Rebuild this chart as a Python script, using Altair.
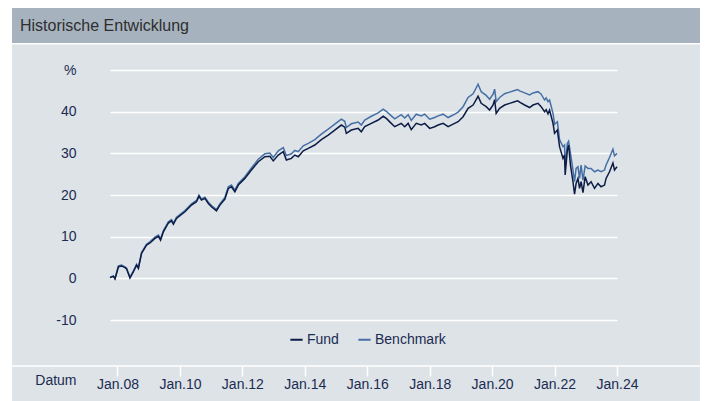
import altair as alt
import pandas as pd

# ---- data ----
years = [
    2007.76, 2007.87, 2007.92, 2008.03, 2008.13, 2008.24, 2008.29, 2008.40, 2008.51, 2008.61,
    2008.67, 2008.77, 2008.93, 2009.04, 2009.20, 2009.31, 2009.38, 2009.47, 2009.63, 2009.73,
    2009.79, 2009.89, 2010.16, 2010.37, 2010.53, 2010.61, 2010.69, 2010.80, 2010.91, 2011.01,
    2011.17, 2011.28, 2011.44, 2011.55, 2011.65, 2011.76, 2011.87, 2012.08, 2012.29, 2012.51,
    2012.72, 2012.88, 2012.99, 2013.15, 2013.31, 2013.41, 2013.57, 2013.68, 2013.79, 2013.95,
    2014.11, 2014.32, 2014.53, 2014.75, 2014.96, 2015.17, 2015.28, 2015.33, 2015.49, 2015.71,
    2015.81, 2015.92, 2016.13, 2016.35, 2016.51, 2016.61, 2016.77, 2016.88, 2017.09, 2017.20,
    2017.31, 2017.41, 2017.57, 2017.73, 2017.84, 2018.00, 2018.16, 2018.27, 2018.43, 2018.59,
    2018.75, 2018.91, 2019.07, 2019.23, 2019.39, 2019.55, 2019.65, 2019.81, 2019.92, 2020.03,
    2020.08, 2020.13, 2020.24, 2020.40, 2020.56, 2020.72, 2020.82, 2020.88, 2021.04, 2021.20,
    2021.31, 2021.47, 2021.57, 2021.68, 2021.73, 2021.79, 2021.84, 2021.95, 2022.00, 2022.09,
    2022.16, 2022.27, 2022.32, 2022.34, 2022.41, 2022.45, 2022.51, 2022.59, 2022.64, 2022.69,
    2022.75, 2022.80, 2022.85, 2022.91, 2022.98, 2023.07, 2023.17, 2023.28, 2023.39, 2023.49,
    2023.60, 2023.65, 2023.76, 2023.87, 2023.92, 2024.00,
]

fund = [
    0.2, 0.5, -0.1, 2.8, 3.0, 2.6, 2.3, 0.1, 1.6, 3.2,
    2.4, 6.0, 8.0, 8.5, 9.6, 10.1, 9.2, 11.2, 13.3, 13.8,
    13.0, 14.4, 16.0, 17.6, 18.4, 19.7, 18.8, 19.2, 18.0, 17.2,
    16.2, 17.6, 19.0, 21.6, 22.0, 20.8, 22.4, 24.0, 26.0, 28.0,
    29.2, 29.3, 28.2, 29.6, 30.4, 28.4, 28.8, 29.6, 29.2, 30.6,
    31.2, 32.0, 33.3, 34.4, 35.6, 36.8, 36.3, 34.8, 35.6, 36.0,
    35.2, 36.4, 37.2, 38.0, 38.9, 38.4, 37.2, 36.4, 37.2, 36.4,
    37.2, 35.7, 37.2, 36.8, 37.2, 36.0, 36.4, 36.8, 37.2, 36.4,
    37.0, 37.6, 38.8, 40.8, 41.6, 43.7, 42.0, 41.2, 40.4, 41.6,
    42.9, 39.6, 40.8, 41.6, 42.0, 42.4, 42.6, 42.3, 41.6, 41.0,
    41.6, 42.0, 41.2, 40.0, 40.5, 39.5, 40.4, 37.2, 34.8, 35.6,
    31.6, 28.8, 29.6, 24.8, 30.8, 32.0, 27.2, 23.2, 20.2, 22.8,
    24.0, 21.6, 23.2, 20.6, 24.4, 22.4, 23.2, 21.6, 22.8, 22.0,
    22.4, 24.0, 25.6, 27.7, 26.0, 26.8,
]

benchmark = [
    0.3, 0.6, 0.0, 3.0, 3.2, 2.8, 2.5, 0.3, 1.8, 3.4,
    2.6, 6.2, 8.2, 8.8, 9.9, 10.4, 9.5, 11.5, 13.6, 14.1,
    13.3, 14.7, 16.3, 17.9, 18.7, 20.0, 19.1, 19.5, 18.3, 17.5,
    16.5, 17.9, 19.4, 22.0, 22.4, 21.2, 22.8, 24.4, 26.5, 28.6,
    29.9, 30.1, 29.0, 30.6, 31.4, 29.5, 29.9, 30.7, 30.4, 31.8,
    32.4, 33.3, 34.6, 35.8, 37.0, 38.2, 37.7, 36.2, 37.1, 37.5,
    36.8, 38.0, 38.9, 39.7, 40.6, 40.1, 39.0, 38.3, 39.3, 38.5,
    39.3, 37.9, 39.4, 39.0, 39.4, 38.2, 38.6, 39.0, 39.4, 38.6,
    39.2, 39.9, 41.2, 43.4, 44.3, 46.6, 44.8, 43.9, 43.0, 44.2,
    45.4, 42.4, 43.4, 44.3, 44.7, 45.1, 45.3, 45.0, 44.5, 44.0,
    44.5, 44.8, 44.2, 42.8, 43.3, 42.4, 42.8, 39.6, 37.0, 37.6,
    33.3, 31.6, 32.0, 26.8, 32.4, 32.9, 30.0, 26.0, 23.2, 26.4,
    26.8, 24.0, 27.2, 23.6, 27.0, 26.4, 26.4, 25.6, 26.0, 25.6,
    26.0, 27.2, 29.0, 31.0, 29.4, 30.0,
]

series_names = ["Fund", "Benchmark"]
x_tick_years = [2008, 2010, 2012, 2014, 2016, 2018, 2020, 2022, 2024]
y_tick_values = [-10, 0, 10, 20, 30, 40, 50]
title_text = "Historische Entwicklung"
x_title = "Datum"

# ---- styling ----
FONT = "Liberation Sans"
LIGHT = "#dde3e7"
BAR = "#a6b3be"
NAVY = "#0c1c45"
BLUE = "#4670a5"
LABEL = "#1c2b52"

W, H = 507, 296

df = pd.concat([
    pd.DataFrame({"year": years, "value": benchmark, "series": "Benchmark"}),
    pd.DataFrame({"year": years, "value": fund, "series": "Fund"}),
], ignore_index=True)

one = pd.DataFrame({"t": [title_text]})

lines = alt.Chart(df).mark_line(strokeWidth=1.5).encode(
    x=alt.X(
        "year:Q",
        scale=alt.Scale(domain=[2007.76, 2024.0], zero=False, nice=False),
        axis=alt.Axis(
            values=x_tick_years,
            labelExpr="'Jan.' + substring(toString(datum.value), 2, 4)",
            grid=False, domain=False, ticks=True,
            tickColor="white", tickSize=10, tickWidth=1.5,
            labelPadding=1, labelFontSize=14, labelColor=LABEL, labelFont=FONT,
            labelOverlap=False, labelFlush=False,
            title=x_title, titleX=-34, titleY=18, titleAlign="right",
            titleBaseline="alphabetic", titleFontWeight="normal",
            titleFontSize=14, titleColor=LABEL, titleFont=FONT,
        ),
    ),
    y=alt.Y(
        "value:Q",
        scale=alt.Scale(domain=[-21, 50], nice=False, zero=False),
        axis=alt.Axis(
            values=y_tick_values,
            labelExpr="datum.value == 50 ? '%' : toString(datum.value)",
            grid=True, gridColor="white", gridWidth=1.5,
            domain=False, ticks=False, labelPadding=34,
            labelFontSize=14, labelColor=LABEL, labelFont=FONT, title=None,
        ),
    ),
    color=alt.Color(
        "series:N",
        scale=alt.Scale(domain=series_names, range=[NAVY, BLUE]),
        legend=alt.Legend(
            orient="none", legendX=179, legendY=262, direction="horizontal",
            title=None, symbolType="stroke", symbolSize=150, symbolStrokeWidth=2,
            labelFontSize=14, labelColor=LABEL, labelFont=FONT,
            columnPadding=15, labelOffset=3,
        ),
    ),
    order=alt.value(0),
)

left_strip = alt.Chart(one).mark_rect(color="white").encode(
    x=alt.value(-102), x2=alt.value(-98), y=alt.value(-62), y2=alt.value(340)
)
title_bar = alt.Chart(one).mark_rect(color=BAR).encode(
    x=alt.value(-98), x2=alt.value(W + 83), y=alt.value(-62), y2=alt.value(-27)
)
title_line = alt.Chart(one).mark_rule(color="white", strokeWidth=1.5).encode(
    x=alt.value(-98), x2=alt.value(W + 83), y=alt.value(-26.3)
)
title = alt.Chart(one).mark_text(
    align="left", baseline="middle", fontSize=16, font=FONT, color="#2e2e2e"
).encode(x=alt.value(-90), y=alt.value(-44), text="t:N")
bottom_line = alt.Chart(one).mark_rule(color="white", strokeWidth=1.5).encode(
    x=alt.value(-98), x2=alt.value(W + 83), y=alt.value(H)
)

chart = alt.layer(
    left_strip, title_bar, title_line, title, bottom_line, lines
).properties(
    width=W, height=H,
    autosize=alt.AutoSizeParams(type="none"),
    padding={"left": 102, "top": 62, "right": 83, "bottom": 35},
    background=LIGHT,
).configure_view(strokeWidth=0, fill=LIGHT)

chart.save("out.html", embed_options={"renderer": "svg", "actions": False})
